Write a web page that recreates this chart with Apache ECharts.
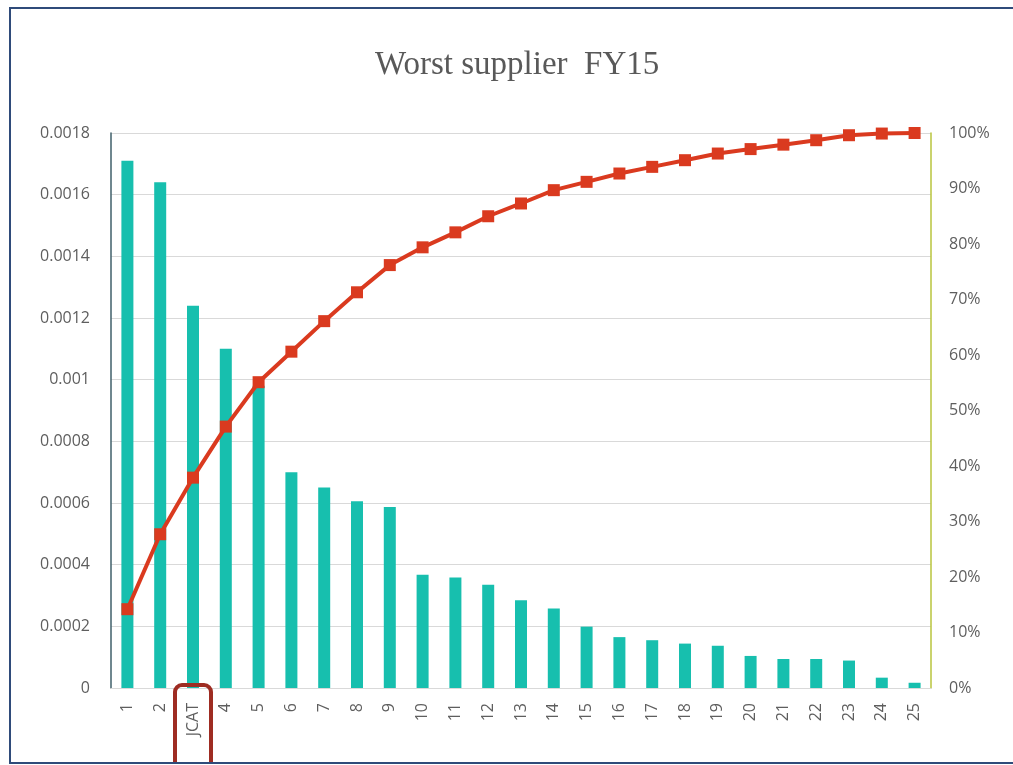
<!DOCTYPE html>
<html>
<head>
<meta charset="utf-8">
<script src="https://cdn.jsdelivr.net/npm/echarts@6/dist/echarts.min.js"></script>
<style>
  html, body { margin: 0; padding: 0; background: #ffffff; overflow: hidden; }
  #frame {
    position: absolute; left: 9px; top: 7px; width: 1002px; height: 753px;
    border: 2px solid #2F4B7A; border-right: none; overflow: hidden; background: #ffffff;
  }
  #chart { position: absolute; left: -11px; top: -9px; width: 1013px; height: 765px; }
</style>
</head>
<body>
<div id="frame"><div id="chart"></div></div>
<script>
// Supplier categories along the x axis
const categories = ['1', '2', 'JCAT', '4', '5', '6', '7', '8', '9', '10', '11', '12', '13',
  '14', '15', '16', '17', '18', '19', '20', '21', '22', '23', '24', '25'];

// Defect rate per supplier (bars, left axis)
const defectRate = [0.00171, 0.00164, 0.00124, 0.00110, 0.00098, 0.00070, 0.00065, 0.000606,
  0.000587, 0.000367, 0.000358, 0.000335, 0.000285, 0.000258, 0.000199, 0.000165, 0.000155,
  0.000144, 0.000137, 0.000104, 0.000094, 0.000094, 0.000089, 0.0000335, 0.000017];

// Cumulative share in percent (line, right axis)
const cumulativePct = [14.2, 27.7, 37.9, 47.1, 55.1, 60.6, 66.1, 71.3, 76.2, 79.4, 82.1, 85.0,
  87.3, 89.7, 91.2, 92.7, 93.9, 95.1, 96.3, 97.1, 97.9, 98.7, 99.6, 99.9, 100];

// Left axis range
const leftMin = 0, leftMax = 0.0018, leftStep = 0.0002;
// Right axis range (percent)
const rightMin = 0, rightMax = 100, rightStep = 10;

const labelFont = '"Open Sans", "DejaVu Sans", sans-serif';
const labelColor = '#5E5E5E';

const chart = echarts.init(document.getElementById('chart'), null, { renderer: 'canvas' });

chart.setOption({
  backgroundColor: '#ffffff',
  animation: false,
  title: {
    text: 'Worst supplier  FY15',
    left: 370,
    top: 44,
    textStyle: {
      fontFamily: '"Liberation Serif", "DejaVu Serif", serif',
      fontSize: 33,
      fontWeight: 'normal',
      color: '#595959'
    }
  },
  grid: { left: 111, right: 82, top: 133, bottom: 77 },
  xAxis: {
    type: 'category',
    data: categories,
    boundaryGap: true,
    axisLine: { lineStyle: { color: '#D9D9D9', width: 1 } },
    axisTick: { show: false },
    axisLabel: {
      rotate: 90,
      margin: 15,
      interval: 0,
      color: labelColor,
      fontFamily: labelFont,
      fontSize: 16
    }
  },
  yAxis: [
    {
      type: 'value',
      min: leftMin, max: leftMax, interval: leftStep,
      axisLine: { show: true, lineStyle: { color: '#3F5F6A', width: 1.5 } },
      axisTick: { show: false },
      splitLine: { show: true, lineStyle: { color: '#D9D9D9', width: 1 } },
      axisLabel: {
        margin: 21,
        color: labelColor,
        fontFamily: labelFont,
        fontSize: 16,
        formatter: v => (v === 0 ? '0' : String(parseFloat(v.toFixed(4))))
      }
    },
    {
      type: 'value',
      min: rightMin, max: rightMax, interval: rightStep,
      position: 'right',
      axisLine: { show: true, lineStyle: { color: '#B8C43C', width: 1.5 } },
      axisTick: { show: false },
      splitLine: { show: false },
      axisLabel: {
        margin: 18,
        color: labelColor,
        fontFamily: labelFont,
        fontSize: 16,
        formatter: '{value}%'
      }
    }
  ],
  series: [
    {
      name: 'Defect rate',
      type: 'bar',
      yAxisIndex: 0,
      data: defectRate,
      barWidth: 12,
      itemStyle: { color: '#17BFAE' },
      z: 2
    },
    {
      name: 'Cumulative %',
      type: 'line',
      yAxisIndex: 1,
      data: cumulativePct,
      symbol: 'rect',
      symbolSize: 12,
      lineStyle: { color: '#DA3A1F', width: 4 },
      itemStyle: { color: '#DA3A1F' },
      z: 3
    }
  ]
});

// Highlight box around the JCAT category label, placed from the axis scales
const cx = chart.convertToPixel({ xAxisIndex: 0 }, 'JCAT');
const baseY = chart.convertToPixel({ yAxisIndex: 0 }, 0);
chart.setOption({
  graphic: [{
    type: 'rect',
    shape: { x: cx - 18, y: baseY - 3, width: 36, height: 110, r: 7 },
    style: { fill: 'none', stroke: '#9E2C22', lineWidth: 4 },
    z: 10
  }]
});
</script>
</body>
</html>
